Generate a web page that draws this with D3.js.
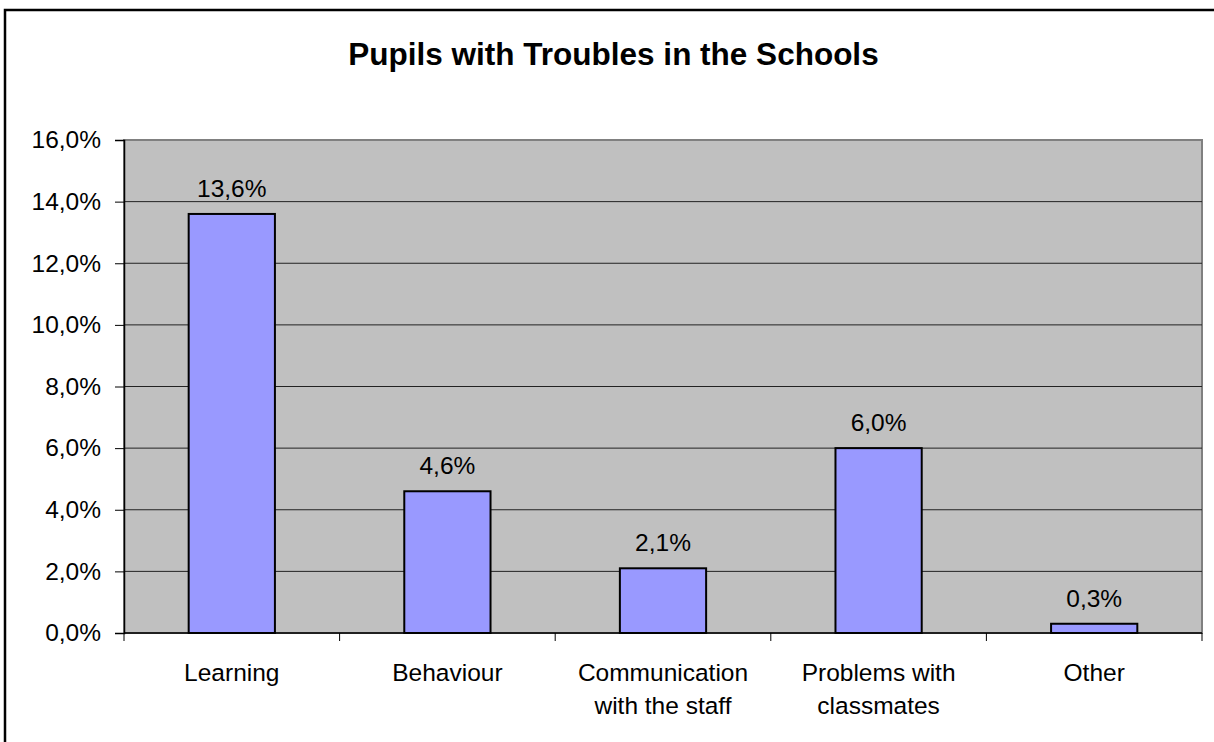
<!DOCTYPE html>
<html><head><meta charset="utf-8">
<script src="https://cdn.jsdelivr.net/npm/d3@7"></script>
<style>body{margin:0;background:#fff}svg{display:block;font-family:"Liberation Sans",Arial,sans-serif}</style>
</head><body>
<svg id="c" width="1214" height="742"></svg>
<script>
const title = "Pupils with Troubles in the Schools";
const categories = [["Learning"],["Behaviour"],["Communication","with the staff"],["Problems with","classmates"],["Other"]];
const values = [13.6, 4.6, 2.1, 6.0, 0.3];
const yTicks = [0,2,4,6,8,10,12,14,16];

const svg = d3.select("#c");
const m = {left:124, top:140, right:1202, bottom:633};
const fmt = v => d3.format(".1f")(v).replace(".", ",") + "%";
const FS = 24.5;

// outer border
svg.append("rect").attr("x",5).attr("y",10).attr("width",1230).attr("height",760)
  .attr("fill","none").attr("stroke","#000").attr("stroke-width",2.5);

svg.append("text").attr("x",613.5).attr("y",65).attr("text-anchor","middle")
  .attr("font-weight","bold").attr("font-size",31.5).text(title);

const x = d3.scaleBand().domain(d3.range(categories.length)).range([m.left,m.right]).paddingInner(0.6).paddingOuter(0.3);
const y = d3.scaleLinear().domain([0,16]).range([m.bottom,m.top]);

svg.append("rect").attr("x",m.left).attr("y",m.top).attr("width",m.right-m.left).attr("height",m.bottom-m.top)
  .attr("fill","#C0C0C0").attr("stroke","#808080").attr("stroke-width",2);

// gridlines
svg.append("g").selectAll("line").data(yTicks.filter(d=>d>0 && d<16)).join("line")
  .attr("x1",m.left).attr("x2",m.right).attr("y1",d=>y(d)).attr("y2",d=>y(d))
  .attr("stroke","#222").attr("stroke-width",1);

// y axis
const ya = svg.append("g").attr("transform",`translate(${m.left},0)`)
  .call(d3.axisLeft(y).tickValues(yTicks).tickFormat(fmt).tickSize(9).tickPadding(14));
ya.select(".domain").attr("stroke","#000").attr("stroke-width",1.5);
ya.selectAll(".tick line").attr("stroke","#000");
ya.selectAll("text").attr("font-size",FS).attr("font-family","Liberation Sans, Arial, sans-serif").attr("fill","#000");

// x axis line and ticks
const step = x.step();
const x0 = x(0) - step * x.paddingOuter();
svg.append("line").attr("x1",m.left).attr("x2",m.right).attr("y1",m.bottom).attr("y2",m.bottom).attr("stroke","#000").attr("stroke-width",1.5);
svg.append("g").selectAll("line").data(d3.range(categories.length+1)).join("line")
  .attr("x1",d=>x0+d*step).attr("x2",d=>x0+d*step)
  .attr("y1",m.bottom).attr("y2",m.bottom+8).attr("stroke","#000");

// bars
svg.append("g").selectAll("rect").data(values).join("rect")
  .attr("x",(d,i)=>x(i)).attr("width",x.bandwidth())
  .attr("y",d=>y(d)).attr("height",d=>y(0)-y(d))
  .attr("fill","#9999FF").attr("stroke","#000").attr("stroke-width",2);

// value labels
svg.append("g").selectAll("text").data(values).join("text")
  .attr("x",(d,i)=>x(i)+x.bandwidth()/2).attr("y",d=>y(d)-17)
  .attr("text-anchor","middle").attr("font-size",FS).text(fmt);

// category labels
const cl = svg.append("g").selectAll("text").data(categories).join("text")
  .attr("x",(d,i)=>x(i)+x.bandwidth()/2).attr("y",681).attr("text-anchor","middle").attr("font-size",FS);
cl.selectAll("tspan").data(d=>d).join("tspan")
  .attr("x",function(){return this.parentNode.getAttribute("x");})
  .attr("dy",(d,i)=>i===0?0:33).text(d=>d);
</script>
</body></html>
